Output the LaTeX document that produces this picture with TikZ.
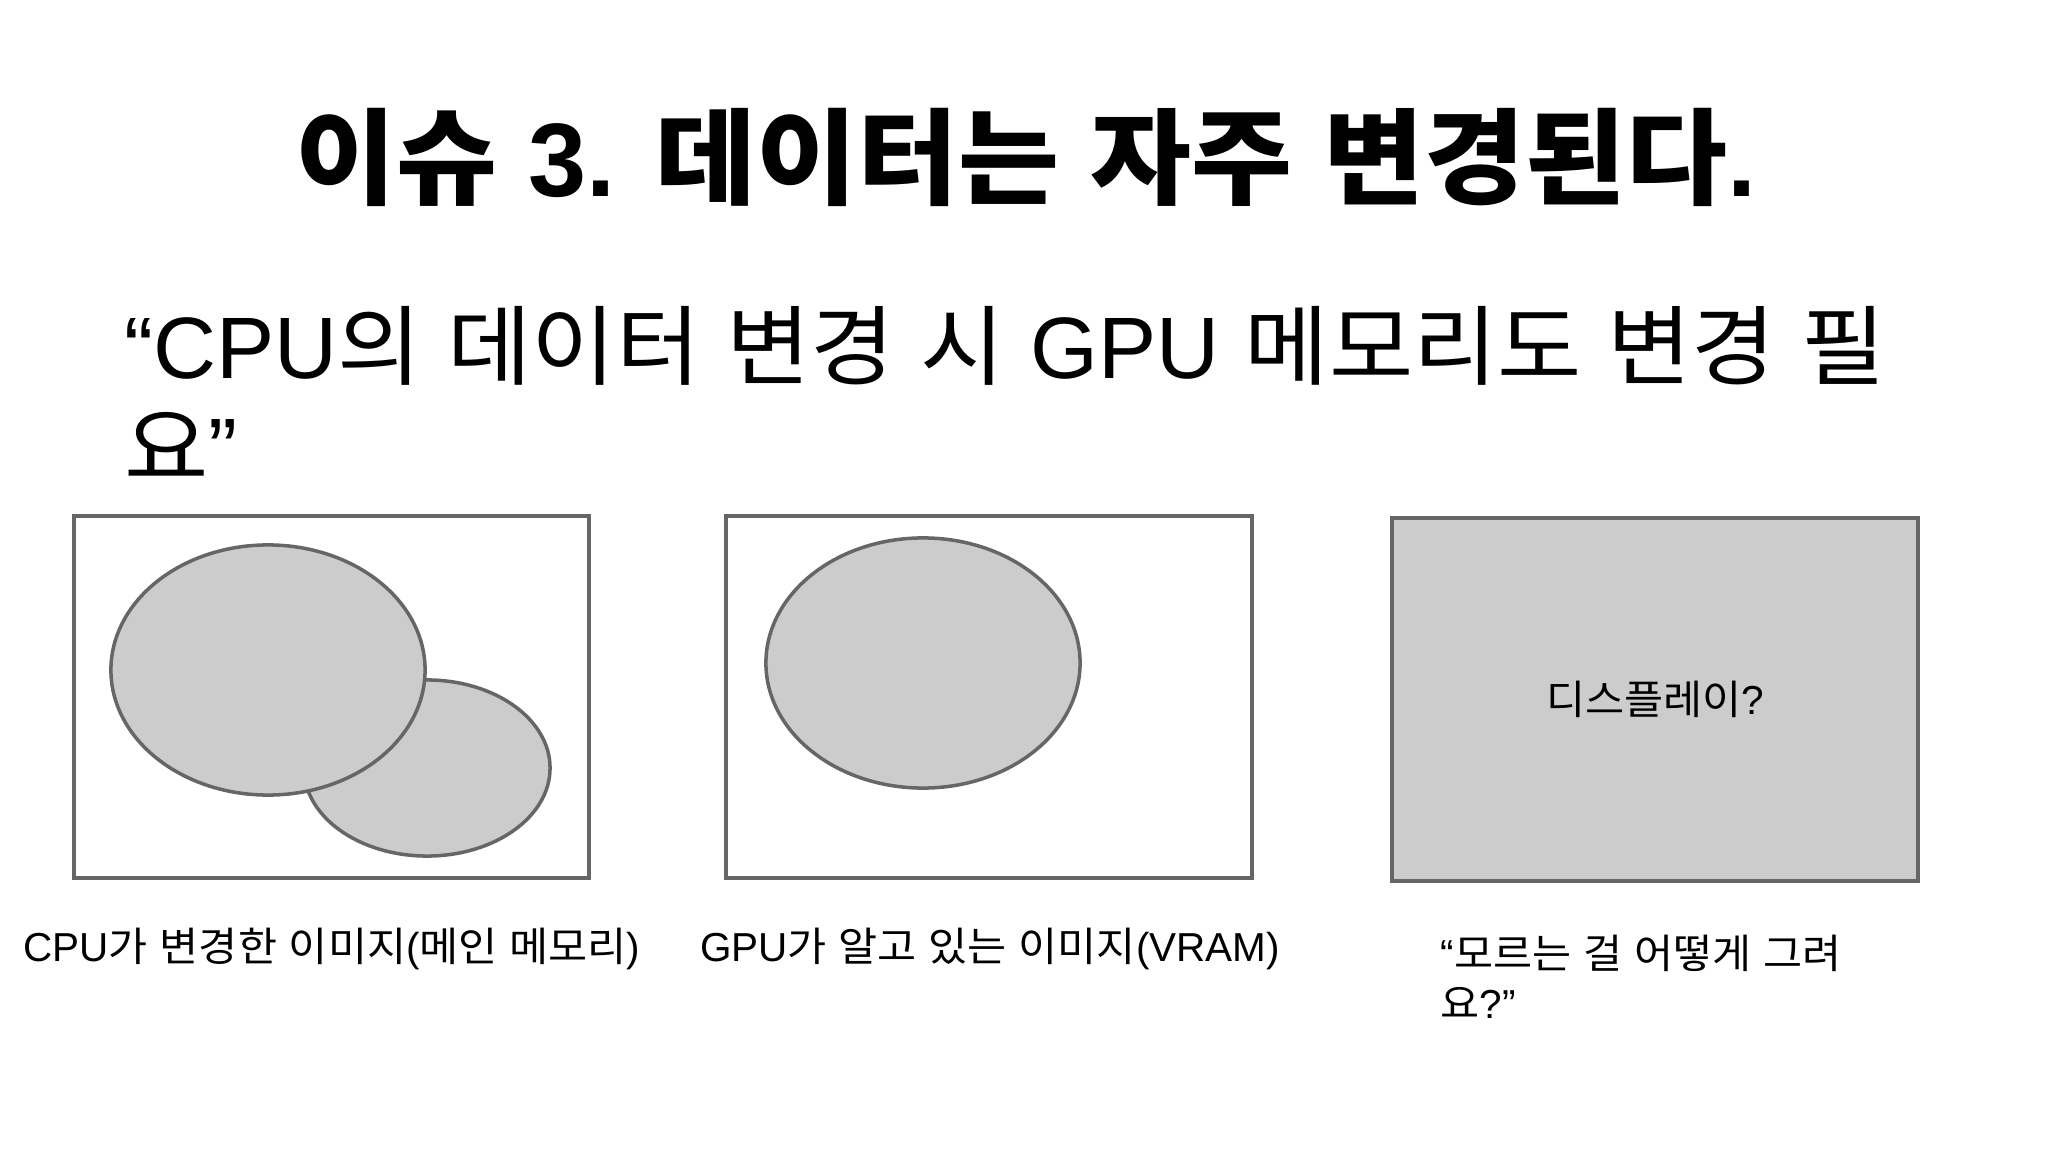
\documentclass[tikz,border=0pt]{standalone}
\usepackage{fontspec}
\setmainfont{Noto Sans CJK KR}[FakeStretch=1.05, WordSpace=1.25]
\newfontfamily\latinfont{Liberation Sans}
\newcommand{\lat}[1]{{\latinfont #1}}
\usetikzlibrary{shapes.geometric}
\definecolor{edgegray}{HTML}{666666}
\definecolor{fillgray}{HTML}{CCCCCC}
\tikzset{
	frame/.style={draw=edgegray, line width=1pt, inner sep=0pt},
	blob/.style={ellipse, draw=edgegray, fill=fillgray, line width=1pt, inner sep=0pt},
	caption/.style={font=\fontsize{11.5}{14.2}\selectfont, inner sep=0pt},
}
\begin{document}
\begin{tikzpicture}[x=0.01cm,y=-0.01cm]
		\useasboundingbox (0,0) rectangle (2048,1152);
		% Titel und Zitat
		\node[font=\fontsize{29.7}{34}\selectfont\bfseries, inner sep=0pt] (title) at (1026,157) {이슈 \lat{3.} 데이터는 자주 변경된다\lat{.}};
		\node[font=\fontsize{24.8}{28.5}\selectfont, inner sep=0pt, align=left, anchor=north west] (quote) at (124,306) {\lat{“CPU}의 데이터 변경 시 \lat{GPU} 메모리도 변경 필\\요\lat{”}};
		% drei Rahmen
		\node[frame, minimum width=5.15cm, minimum height=3.62cm] (cpubox) at (331.5,697) {};
		\node[frame, minimum width=5.26cm, minimum height=3.62cm] (gpubox) at (989,697) {};
		\node[frame, fill=fillgray, caption, minimum width=5.26cm, minimum height=3.63cm] (screen) at (1655,699.5) {디스플레이\lat{?}};
		\node[blob, minimum width=2.46cm, minimum height=1.76cm] (cpunew) at (427,768) {};
		\node[blob, minimum width=3.14cm, minimum height=2.50cm] (cpuold) at (268,670) {};
		\node[blob, minimum width=3.14cm, minimum height=2.50cm] (gpuimg) at (923,663) {};
		% Beschriftungen
		\node[caption] (cpucap) at (332,949) {\lat{CPU}가 변경한 이미지\lat{(}메인 메모리\lat{)}};
		\node[caption] (gpucap) at (990,949) {\lat{GPU}가 알고 있는 이미지\lat{(VRAM)}};
		\node[caption, align=left, anchor=north west] (screencap) at (1440,934) {\lat{“}모르는 걸 어떻게 그려\\요\lat{?”}};
	\end{tikzpicture}
\end{document}
